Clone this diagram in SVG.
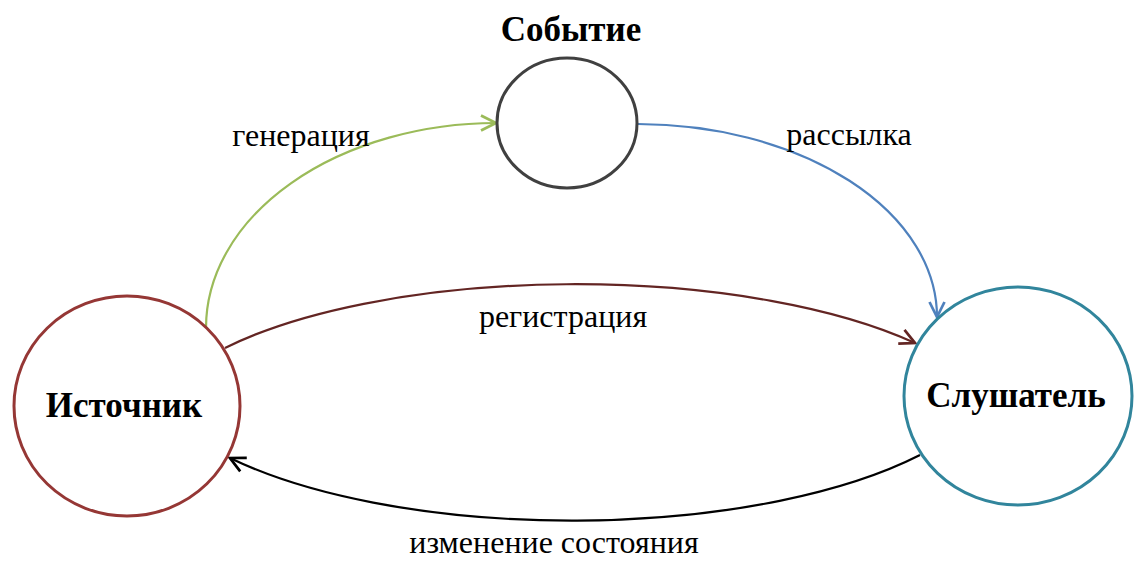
<svg xmlns="http://www.w3.org/2000/svg" width="1148" height="567" viewBox="0 0 1148 567">
<style>
.node{fill:#ffffff;stroke-width:3}
.conn{fill:none;stroke-width:2.2}
.title{font-family:"Liberation Serif","Times New Roman",serif;font-weight:bold;font-size:35px;fill:#000;text-anchor:middle}
.label{font-family:"Liberation Serif","Times New Roman",serif;font-size:32px;fill:#000;text-anchor:middle}
</style>
<defs>
<marker id="ag" markerUnits="userSpaceOnUse" markerWidth="20" markerHeight="20" viewBox="-14 -8 16 16" refX="0" refY="0" orient="auto"><path d="M-12,-6 L0,0 L-12,6" fill="none" stroke="#9BBB59" stroke-width="2.2"/></marker>
<marker id="ab" markerUnits="userSpaceOnUse" markerWidth="20" markerHeight="20" viewBox="-14 -8 16 16" refX="0" refY="0" orient="auto"><path d="M-12,-6 L0,0 L-12,6" fill="none" stroke="#4F81BD" stroke-width="2.2"/></marker>
<marker id="ar" markerUnits="userSpaceOnUse" markerWidth="20" markerHeight="20" viewBox="-14 -8 16 16" refX="0" refY="0" orient="auto"><path d="M-12,-6 L0,0 L-12,6" fill="none" stroke="#632523" stroke-width="2.2"/></marker>
<marker id="ak" markerUnits="userSpaceOnUse" markerWidth="20" markerHeight="20" viewBox="-14 -8 16 16" refX="0" refY="0" orient="auto"><path d="M-12,-6 L0,0 L-12,6" fill="none" stroke="#000000" stroke-width="2.2"/></marker>
</defs>
<rect width="1148" height="567" fill="#ffffff"/>
<g id="connectors">
<path class="conn" stroke="#9BBB59" d="M206,328 A291,205 0 0 1 496,123" marker-end="url(#ag)"/>
<path class="conn" stroke="#4F81BD" d="M638,124 A300,193 0 0 1 937,317" marker-end="url(#ab)"/>
<path class="conn" stroke="#632523" d="M225,348 A428,150 0 0 1 915,343" marker-end="url(#ar)"/>
<path class="conn" stroke="#000000" d="M920,455 A430,159 0 0 1 230,458" marker-end="url(#ak)"/>
</g>
<g id="labels">
<text class="label" x="301" y="146">генерация</text>
<text class="label" x="849" y="145">рассылка</text>
<text class="label" x="563" y="327">регистрация</text>
<text class="label" x="554" y="553">изменение состояния</text>
</g>
<g id="node-event">
<ellipse class="node" stroke="#404040" cx="567" cy="123" rx="70" ry="65"/>
<text class="title" x="571" y="41">Событие</text>
</g>
<g id="node-source">
<ellipse class="node" stroke="#953735" cx="127" cy="406" rx="113" ry="110"/>
<text class="title" x="124" y="417">Источник</text>
</g>
<g id="node-listener">
<ellipse class="node" stroke="#31859C" cx="1018" cy="396" rx="114" ry="109"/>
<text class="title" x="1016" y="407">Слушатель</text>
</g>
</svg>
